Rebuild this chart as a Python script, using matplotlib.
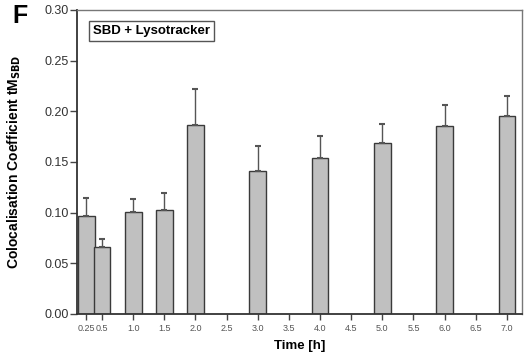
import matplotlib.pyplot as plt

times = [0.25, 0.5, 1.0, 1.5, 2.0, 3.0, 4.0, 5.0, 6.0, 7.0]
coloc = [0.097, 0.066, 0.101, 0.103, 0.186, 0.141, 0.154, 0.169, 0.185, 0.195]
errors = [0.017, 0.008, 0.012, 0.016, 0.036, 0.025, 0.022, 0.018, 0.021, 0.020]
tick_pos = [0.25, 0.5, 1.0, 1.5, 2.0, 2.5, 3.0, 3.5, 4.0, 4.5, 5.0, 5.5, 6.0, 6.5, 7.0]
tick_labels = ["0.25", "0.5", "1.0", "1.5", "2.0", "2.5", "3.0", "3.5", "4.0",
               "4.5", "5.0", "5.5", "6.0", "6.5", "7.0"]

plt.rcParams['font.family'] = ['Liberation Sans', 'DejaVu Sans']

fig = plt.figure(figsize=(5.24, 3.54), dpi=100)
ax = fig.add_axes([0.147, 0.113, 0.849, 0.859])

ax.bar(times, coloc, width=0.27, color="#c0c0c0", edgecolor="#3a3a3a",
       linewidth=1.0, yerr=[[0] * len(errors), errors],
       error_kw=dict(ecolor="#555555", elinewidth=1.0, capsize=2.5, capthick=1.5))

ax.set_xlim(0.1, 7.24)
ax.set_ylim(0, 0.30)
ax.set_xticks(tick_pos)
ax.set_xticklabels(tick_labels, fontsize=6.5, color="#555555")
ax.set_yticks([0.0, 0.05, 0.10, 0.15, 0.20, 0.25, 0.30])
ax.set_yticklabels(["0.00", "0.05", "0.10", "0.15", "0.20", "0.25", "0.30"],
                   fontsize=9, color="#333333")
ax.tick_params(axis="y", direction="out", length=5, width=1, color="#444444", pad=1)
ax.tick_params(axis="x", direction="out", length=4, width=1, color="#444444", pad=3)

for side in ["left", "bottom"]:
    ax.spines[side].set_color("#333333")
    ax.spines[side].set_linewidth(1.3)
for side in ["top", "right"]:
    ax.spines[side].set_color("#777777")
    ax.spines[side].set_linewidth(1.0)

ax.set_xlabel("Time [h]", fontsize=9.5, fontweight="bold")
ax.xaxis.set_label_coords(0.5, -0.085)
ax.set_ylabel(r"Colocalisation Coefficient tM$_\mathbf{SBD}$", fontsize=10,
              fontweight="bold")
ax.yaxis.set_label_coords(-0.121, 0.5)

ax.text(0.036, 0.93, "SBD + Lysotracker", transform=ax.transAxes, fontsize=9.5,
        fontweight="bold", va="center", ha="left",
        bbox=dict(boxstyle="square,pad=0.3", facecolor="white",
                  edgecolor="#555555", linewidth=1.0))

fig.text(0.023, 0.955, "F", fontsize=18, fontweight="bold", va="center", ha="left")

fig.savefig("out.png", dpi=100)
